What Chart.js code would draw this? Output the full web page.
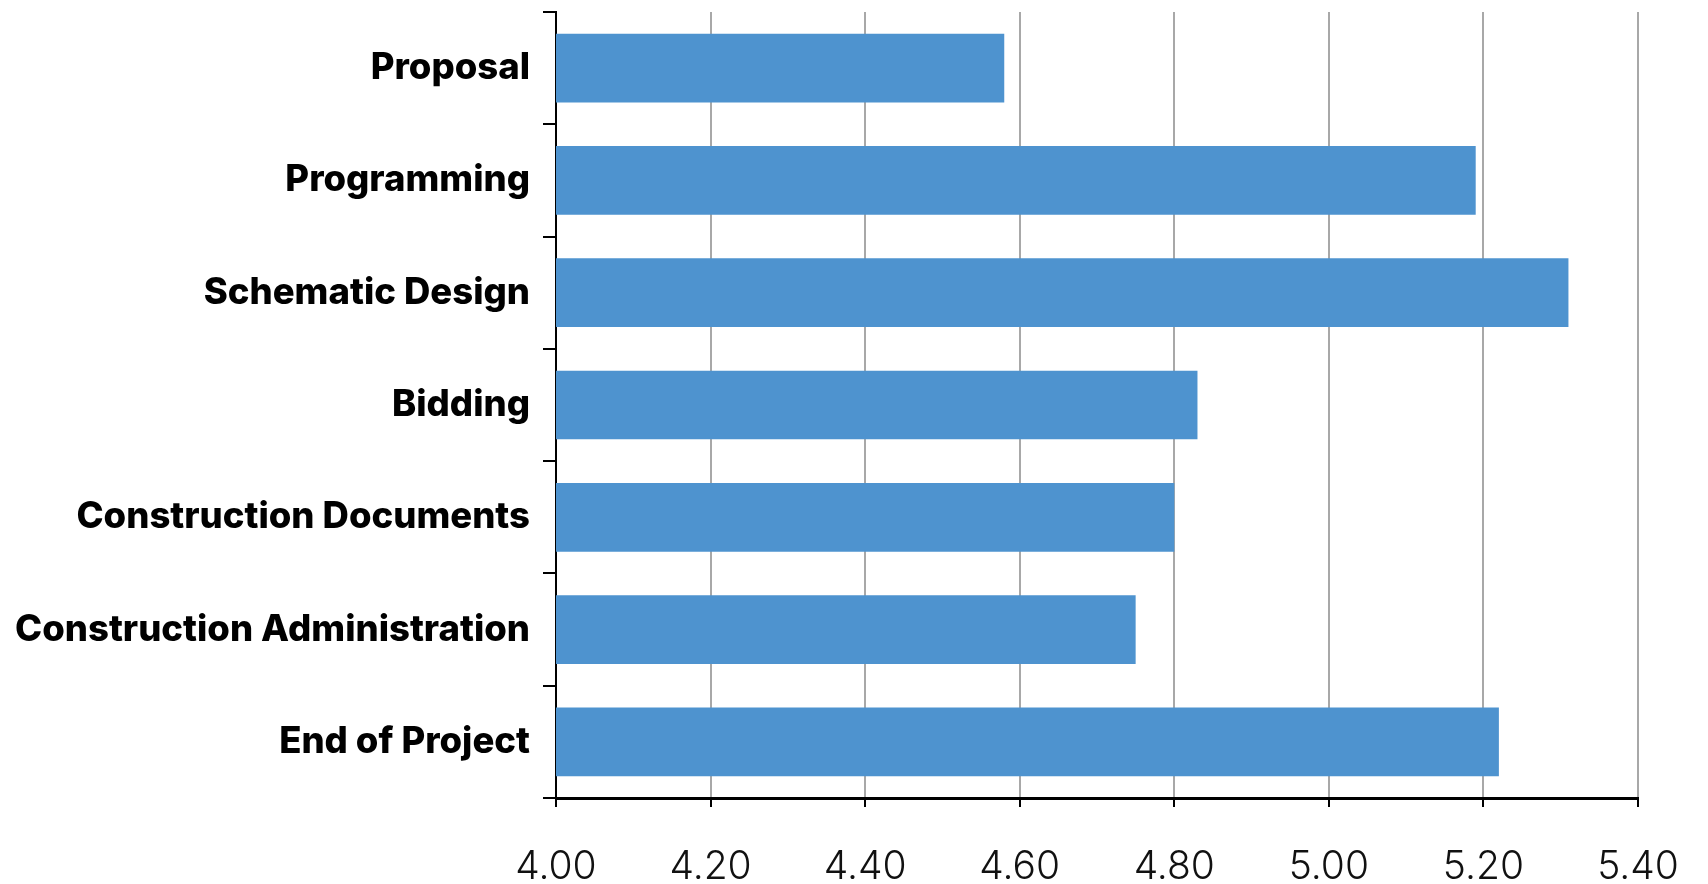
<!DOCTYPE html>
<html>
<head>
<meta charset="utf-8">
<script src="https://cdn.jsdelivr.net/npm/chart.js@4"></script>
<style>
html,body{margin:0;padding:0;background:#fff;}
#wrap{width:1708px;height:884px;position:relative;}
</style>
</head>
<body>
<div id="wrap"><canvas id="c"></canvas></div>
<script>
const categories = ["Proposal","Programming","Schematic Design","Bidding","Construction Documents","Construction Administration","End of Project"];
const values = [4.58, 5.19, 5.31, 4.83, 4.80, 4.75, 5.22];
const xTickLabels = ["4.00","4.20","4.40","4.60","4.80","5.00","5.20","5.40"];
const xMin = 4.0, xMax = 5.4, xStep = 0.2;

new Chart(document.getElementById('c'), {
  type: 'bar',
  data: {
    labels: categories,
    datasets: [{
      data: values,
      backgroundColor: '#4e93cf',
      borderWidth: 0,
      barPercentage: 0.612,
      categoryPercentage: 1.0
    }]
  },
  options: {
    indexAxis: 'y',
    responsive: true,
    maintainAspectRatio: false,
    animation: false,
    layout: { padding: { top: 12, right: 70, left: 0, bottom: 0 } },
    plugins: { legend: { display: false }, tooltip: { enabled: false } },
    scales: {
      x: {
        min: xMin, max: xMax,
        ticks: {
          stepSize: xStep,
          color: '#111',
          font: { family: 'Inter', size: 39, weight: 300 },
          padding: 37,
          callback: function(v, i) { return xTickLabels[i]; }
        },
        grid: { color: '#a8a8a8', lineWidth: 2, tickColor: '#000', tickLength: 9, drawTicks: true },
        border: { display: true, color: '#000', width: 3 },
        afterFit: function(s) { s.height = 86; s.paddingLeft = 0; s.paddingRight = 0; }
      },
      y: {
        z: 1,
        ticks: {
          color: '#000',
          font: { family: 'Inter', size: 36.5, weight: 800 },
          padding: 13
        },
        grid: { display: true, drawOnChartArea: false, offset: true, tickLength: 13, tickColor: '#000', lineWidth: 2 },
        border: { display: true, color: '#000', width: 2 },
        afterFit: function(s) { s.width = 556; s.paddingTop = 0; s.paddingBottom = 0; }
      }
    }
  }
});
</script>
</body>
</html>
